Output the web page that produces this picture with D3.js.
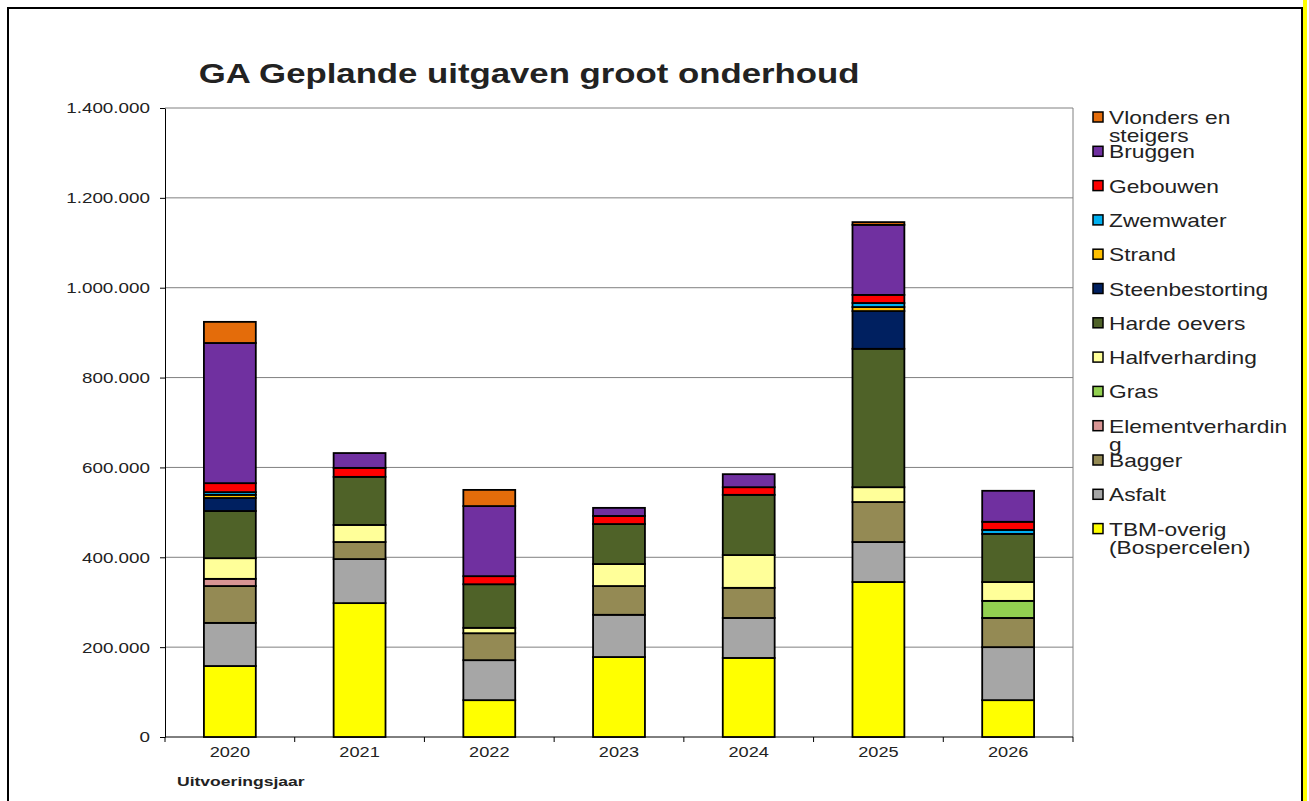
<html>
  <head>
    <meta charset="utf-8" />
    <script src="https://d3js.org/d3.v7.min.js"></script>
    <style>
      body { margin: 0; background: #fff; }
      text { font-family: "Liberation Sans", Arial, sans-serif; fill: #222; }
    </style>
  </head>
  <body>
    <div id="grafiek"></div>
    <script>
      // categorieen (uitvoeringsjaar)
      const jaren = ["2020", "2021", "2022", "2023", "2024", "2025", "2026"];

      // reeksen, van onder naar boven gestapeld (bedragen in euro)
      const tbmOverig      = [158000, 298000,  82000, 178000, 176000, 345000,  82000];
      const asfalt         = [ 96000,  98000,  89000,  94000,  89000,  89000, 118000];
      const bagger         = [ 82000,  38000,  60000,  64000,  67000,  89000,  65000];
      const elementverh    = [ 16000,      0,      0,      0,      0,      0,      0];
      const gras           = [     0,      0,      0,      0,      0,      0,  38000];
      const halfverharding = [ 46000,  38000,  12000,  49000,  73000,  33000,  42000];
      const hardeOevers    = [105000, 107000,  97000,  89000, 134000, 308000, 107000];
      const steenbest      = [ 29000,      0,      0,      0,      0,  84000,      0];
      const strand         = [  7000,      0,      0,      0,      0,   9000,      0];
      const zwemwater      = [  6000,      0,      0,      0,      0,   9000,   9000];
      const gebouwen       = [ 20000,  20000,  18000,  18000,  17000,  18000,  18000];
      const bruggen        = [312000,  33000, 156000,  18000,  29000, 156000,  69000];
      const vlonders       = [ 47000,      0,  36000,      0,      0,   6000,      0];

      const yTicks = [0, 200000, 400000, 600000, 800000, 1000000, 1200000, 1400000];

      const reeksen = [
        { naam: ["TBM-overig", "(Bospercelen)"], kleur: "#FFFF00", waarden: tbmOverig },
        { naam: ["Asfalt"], kleur: "#A6A6A6", waarden: asfalt },
        { naam: ["Bagger"], kleur: "#948A54", waarden: bagger },
        { naam: ["Elementverhardin", "g"], kleur: "#D99594", waarden: elementverh },
        { naam: ["Gras"], kleur: "#92D050", waarden: gras },
        { naam: ["Halfverharding"], kleur: "#FFFF99", waarden: halfverharding },
        { naam: ["Harde oevers"], kleur: "#4F6228", waarden: hardeOevers },
        { naam: ["Steenbestorting"], kleur: "#002060", waarden: steenbest },
        { naam: ["Strand"], kleur: "#FFC000", waarden: strand },
        { naam: ["Zwemwater"], kleur: "#00B0F0", waarden: zwemwater },
        { naam: ["Gebouwen"], kleur: "#FF0000", waarden: gebouwen },
        { naam: ["Bruggen"], kleur: "#7030A0", waarden: bruggen },
        { naam: ["Vlonders en", "steigers"], kleur: "#E46C0A", waarden: vlonders }
      ];

      const SX = 1.3; // tekst is horizontaal uitgerekt in het origineel

      const svg = d3.select("#grafiek").append("svg")
        .attr("width", 1309).attr("height", 801);

      // kader
      svg.append("rect").attr("x", 1303).attr("y", 0).attr("width", 4).attr("height", 801).attr("fill", "#FFFF00");
      svg.append("path").attr("d", "M8,801 V8 H1302 V801")
        .attr("fill", "none").attr("stroke", "#000").attr("stroke-width", 2);

      const links = 165, rechts = 1073, boven = 108, onder = 737;

      const x = d3.scaleBand().domain(jaren).range([links, rechts]).padding(0);
      const y = d3.scaleLinear().domain([0, 1400000]).range([onder, boven]);

      // rasterlijnen
      svg.append("g").selectAll("line").data(yTicks.slice(1)).join("line")
        .attr("x1", links).attr("x2", rechts)
        .attr("y1", d => y(d)).attr("y2", d => y(d))
        .attr("stroke", "#808080").attr("stroke-width", 1);
      svg.append("line").attr("x1", rechts).attr("x2", rechts).attr("y1", boven).attr("y2", onder)
        .attr("stroke", "#808080");

      // y-as
      const fmt = d3.formatLocale({ decimal: ",", thousands: ".", grouping: [3], currency: ["€", ""] }).format(",.0f");
      const yAs = svg.append("g").attr("transform", `translate(${links},0)`)
        .call(d3.axisLeft(y).tickValues(yTicks).tickSize(5).tickSizeOuter(0).tickFormat(fmt));
      yAs.select(".domain").attr("stroke", "#000");
      yAs.selectAll(".tick line").attr("stroke", "#000");
      yAs.selectAll(".tick text")
        .attr("x", 0).attr("dy", "0.34em")
        .attr("transform", `translate(-15,0) scale(${SX},1)`)
        .style("font-size", "14.5px").attr("fill", "#222");

      // x-as
      const xAs = svg.append("g").attr("transform", `translate(0,${onder})`);
      xAs.append("line").attr("x1", links).attr("x2", rechts).attr("stroke", "#000");
      xAs.selectAll(".grens").data(jaren.concat(["eind"])).join("line")
        .attr("class", "grens")
        .attr("x1", (d, i) => links + i * x.step()).attr("x2", (d, i) => links + i * x.step())
        .attr("y1", 0).attr("y2", 5).attr("stroke", "#000");
      xAs.selectAll("text").data(jaren).join("text")
        .attr("transform", d => `translate(${x(d) + x.bandwidth() / 2},20) scale(${SX},1)`)
        .attr("text-anchor", "middle")
        .style("font-size", "14px")
        .text(d => d);

      // gestapelde staven
      const tabel = jaren.map((j, i) => {
        const rij = { jaar: j };
        reeksen.forEach((r, k) => rij[k] = r.waarden[i]);
        return rij;
      });
      const stapel = d3.stack().keys(reeksen.map((r, k) => k))(tabel);
      const barW = x.bandwidth() * 0.4;

      stapel.forEach((laag, k) => {
        svg.append("g").selectAll("rect").data(laag.filter(d => d[1] - d[0] > 0)).join("rect")
          .attr("x", d => x(d.data.jaar) + (x.bandwidth() - barW) / 2)
          .attr("width", barW)
          .attr("y", d => y(d[1]))
          .attr("height", d => y(d[0]) - y(d[1]))
          .attr("fill", reeksen[k].kleur)
          .attr("stroke", "#000").attr("stroke-width", 1.8);
      });

      // titel
      svg.append("text")
        .attr("transform", `translate(529,83) scale(${SX * 0.99},1)`)
        .attr("text-anchor", "middle")
        .style("font-size", "27px").style("font-weight", "bold").attr("fill", "#000")
        .text("GA Geplande uitgaven groot onderhoud");

      svg.append("text")
        .attr("transform", `translate(177,786) scale(${SX},1)`)
        .style("font-size", "13.5px").style("font-weight", "bold").attr("fill", "#000")
        .text("Uitvoeringsjaar");

      // legenda (bovenste reeks eerst)
      const legenda = svg.append("g");
      reeksen.slice().reverse().forEach((r, i) => {
        const yy = 124 + i * 34.3;
        legenda.append("rect")
          .attr("x", 1093).attr("y", yy - 12).attr("width", 10).attr("height", 10)
          .attr("fill", r.kleur).attr("stroke", "#000").attr("stroke-width", 1.5);
        r.naam.forEach((regel, n) => {
          legenda.append("text")
            .attr("transform", `translate(1109,${yy + n * 18}) scale(${SX},1)`)
            .style("font-size", "17.5px").attr("fill", "#000")
            .text(regel);
        });
      });
    </script>
  </body>
</html>
